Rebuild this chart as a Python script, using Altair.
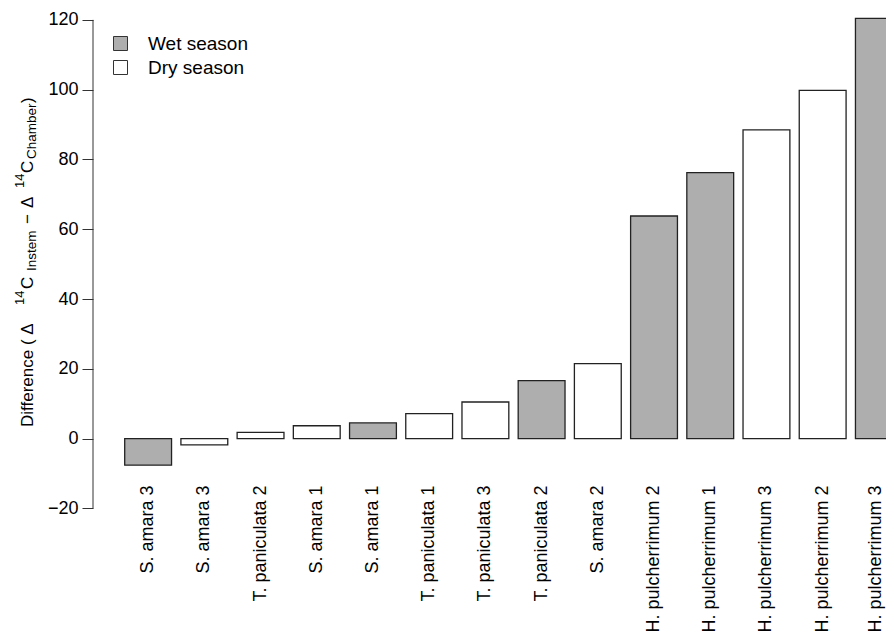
import altair as alt
import pandas as pd

# ---- data ----
labels = ["S. amara 3", "S. amara 3", "T. paniculata 2", "S. amara 1", "S. amara 1",
          "T. paniculata 1", "T. paniculata 3", "T. paniculata 2", "S. amara 2",
          "H. pulcherrimum 2", "H. pulcherrimum 1", "H. pulcherrimum 3",
          "H. pulcherrimum 2", "H. pulcherrimum 3"]
seasons = ["Wet season", "Dry season", "Dry season", "Dry season", "Wet season",
           "Dry season", "Dry season", "Wet season", "Dry season",
           "Wet season", "Wet season", "Dry season", "Dry season", "Wet season"]
values = [-7.6, -1.8, 1.8, 3.7, 4.5, 7.2, 10.5, 16.6, 21.5, 63.8, 76.2, 88.5, 99.8, 120.4]
y_ticks = [-20, 0, 20, 40, 60, 80, 100, 120]
season_order = ["Wet season", "Dry season"]
season_colors = ["#AEAEAE", "#FFFFFF"]

df = pd.DataFrame({"idx": list(range(len(labels))), "label": labels,
                   "season": seasons, "value": values})

label_js = "[" + ",".join("'" + l + "'" for l in labels) + "]"
FONT = "Liberation Sans"
last_idx = len(labels) - 1

yscale = alt.Scale(domain=[-25.6, 123.4], nice=False, zero=False)

bars = alt.Chart(df).mark_bar(stroke="#222222", strokeWidth=1.3, clip=True).encode(
    x=alt.X("idx:O",
            scale=alt.Scale(range=[0, 841], paddingInner=1 / 6, paddingOuter=0.564),
            axis=alt.Axis(title=None, labelExpr=label_js + "[datum.value]",
                          labelAngle=270, ticks=False, domain=False,
                          labelPadding=-43, labelFontSize=18, labelColor="black",
                          labelFont=FONT,
                          labelOffset={"condition": {"test": f"datum.value == {last_idx}",
                                                     "value": -3}, "value": 0})),
    y=alt.Y("value:Q", scale=yscale,
            axis=alt.Axis(title=None, values=y_ticks, domain=False, grid=False,
                          tickSize=11, tickColor="#333333", labelPadding=4,
                          labelFontSize=18, labelColor="black", labelFont=FONT)),
    y2=alt.datum(0),
    fill=alt.Fill("season:N",
                  scale=alt.Scale(domain=season_order, range=season_colors),
                  legend=alt.Legend(title=None, orient="none", legendX=18, legendY=26,
                                    symbolType="square", symbolSize=196,
                                    symbolStrokeColor="#333333", symbolStrokeWidth=1,
                                    symbolOpacity=1, labelFontSize=19, labelOffset=18,
                                    rowPadding=4, padding=0, labelColor="black",
                                    labelFont=FONT)),
)

axis_line = alt.Chart(pd.DataFrame({"lo": [min(y_ticks)], "hi": [max(y_ticks)]})).mark_rule(
    color="#333333", strokeWidth=1).encode(
    x=alt.value(0), y=alt.Y("lo:Q", scale=yscale), y2="hi:Q")

# y-axis title built from pieces (sub/superscripts)
pieces = [
    ("Difference ( \u0394", 17, -60.5, 419),
    ("14", 13, -69.5, 297),
    ("C", 17, -60.5, 281),
    ("Instem", 13.5, -57.5, 263),
    ("\u2212", 17, -60.5, 216),
    ("\u0394", 17, -60.5, 200),
    ("14", 13, -69.5, 180),
    ("C", 17, -60.5, 165),
    ("Chamber", 13.5, -57.5, 151),
    (")", 17, -60.5, 95),
]
title_layers = []
for txt, size, px, py in pieces:
    title_layers.append(
        alt.Chart(pd.DataFrame({"t": [txt]})).mark_text(
            angle=270, align="left", baseline="alphabetic", fontSize=size,
            font=FONT, color="black").encode(
            text="t:N", x=alt.value(px), y=alt.value(py)))

chart = alt.layer(bars, axis_line, *title_layers).properties(
    width=793, height=520,
    autosize=alt.AutoSizeParams(type="none"),
    padding={"left": 85, "top": 0, "right": 0, "bottom": 106},
).configure(font=FONT).configure_view(stroke=None, strokeWidth=0)

chart.save("out.html", embed_options={"renderer": "svg", "actions": False})
